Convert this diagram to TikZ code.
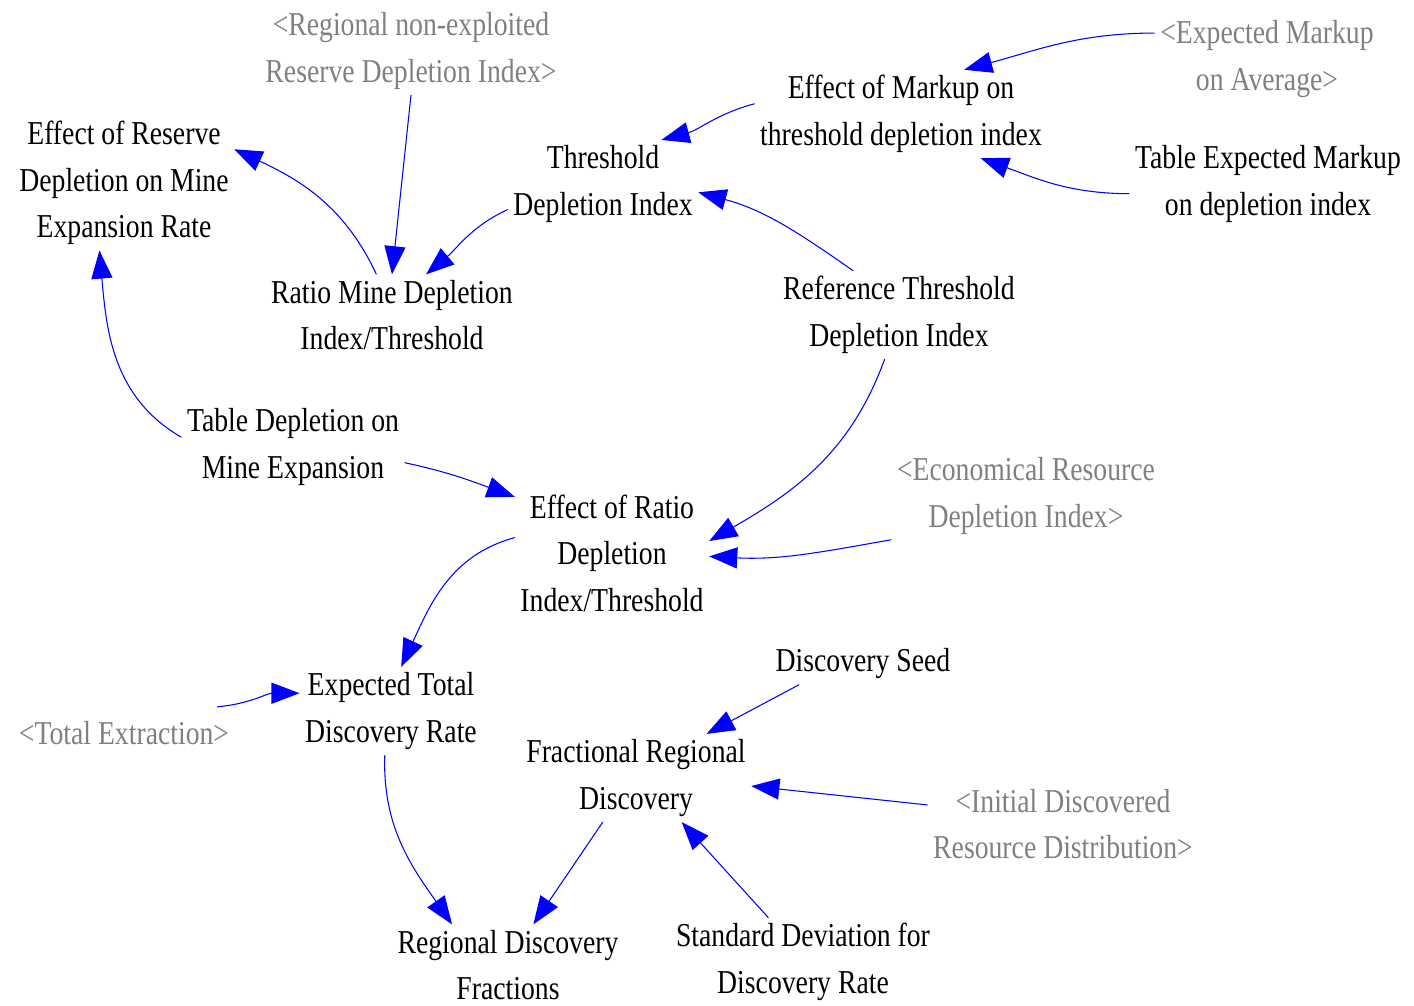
\documentclass[tikz,border=0pt]{standalone}
\usepackage{fontspec}
\setmainfont[FakeStretch=0.83]{Liberation Serif}
\usepackage{xcolor}
\usetikzlibrary{arrows.meta}

\definecolor{linkblue}{RGB}{0,0,255}
\definecolor{shadowgray}{RGB}{128,128,128}

\begin{document}
\begin{tikzpicture}[x=0.02cm,y=0.02cm]
\useasboundingbox (0,0) rectangle (1414,-1006);

\begin{scope}[every node/.style={align=center,inner sep=3pt,font=\fontsize{19}{26.5}\selectfont}]
\node (effect reserve) at (124,-183) {Effect of Reserve\\Depletion on Mine\\Expansion Rate};
\node (threshold) at (603,-184) {Threshold\\Depletion Index};
\node (effect markup) at (901,-114) {Effect of Markup on\\threshold depletion index};
\node (table markup) at (1268,-184) {Table Expected Markup\\on depletion index};
\node (ratio mine) at (392,-315) {Ratio Mine Depletion\\Index/Threshold};
\node (ref threshold) at (899,-315) {Reference Threshold\\Depletion Index};
\node (table depletion) at (293,-447) {Table Depletion on\\Mine Expansion};
\node (effect ratio) at (612,-553) {Effect of Ratio\\Depletion\\Index/Threshold};
\node (expected total) at (391,-711) {Expected Total\\Discovery Rate};
\node (seed) at (863,-664) {Discovery Seed};
\node (fractional) at (636,-778) {Fractional Regional\\Discovery};
\node (fractions) at (508,-965) {Regional Discovery\\Fractions};
\node (std dev) at (803,-962) {Standard Deviation for\\Discovery Rate};
\end{scope}

% shadow variables
\begin{scope}[every node/.style={align=center,inner sep=3pt,text=shadowgray,font=\fontsize{19}{26.5}\selectfont}]
\node (regional index) at (411,-51) {<Regional non-exploited\\Reserve Depletion Index>};
\node (expected markup) at (1267,-59) {<Expected Markup\\on Average>};
\node (economical) at (1026,-496) {<Economical Resource\\Depletion Index>};
\node (total extraction) at (124,-733) {<Total Extraction>};
\node (initial discovered) at (1063,-824) {<Initial Discovered\\Resource Distribution>};
\end{scope}

\begin{scope}[linkblue,line width=0.6pt,>={Triangle[length=16pt,width=12pt]}]
\path [->] (regional index.south) edge (ratio mine.north);
\path [->] (ratio mine.111) edge[out=115,in=-25] (effect reserve.17);
\path [->] (threshold.195) edge[out=205,in=40] (ratio mine.50);
\path [->] (effect markup.176) edge[out=195,in=15] (threshold.37);
\path [->] (expected markup.167) edge[out=180,in=15] (effect markup.35);
\path [->] (table markup.184) edge[out=180,in=-20] (effect markup.-29);
\path [->] (ref threshold.136) edge[out=145,in=-15] (threshold.-5);
\path [->] (table depletion.175) edge[out=150,in=-85] (effect reserve.-110);
\path [->] (table depletion.-8) edge[out=-12,in=160] (effect ratio.150);
\path [->] (ref threshold.-108) edge[out=-110,in=30] (effect ratio.7);
\path [->] (economical.198) edge[out=190,in=-3] (effect ratio.-2);
\path [->] (effect ratio.171) edge[out=195,in=65] (expected total.77);
\path [->] ([xshift=-10pt,yshift=5pt]total extraction.north east) edge[out=5,in=180] (expected total.169);
\path [->] (expected total.-98) edge[out=-92,in=125] (fractions.144);
\path [->] (seed.198) edge (fractional.32);
\path [->] (initial discovered.172) edge (fractional.-4);
\path [->] (fractional.-127) edge (fractions.58);
\path [->] (std dev.128) edge (fractional.-44);
\end{scope}

\end{tikzpicture}
\end{document}
